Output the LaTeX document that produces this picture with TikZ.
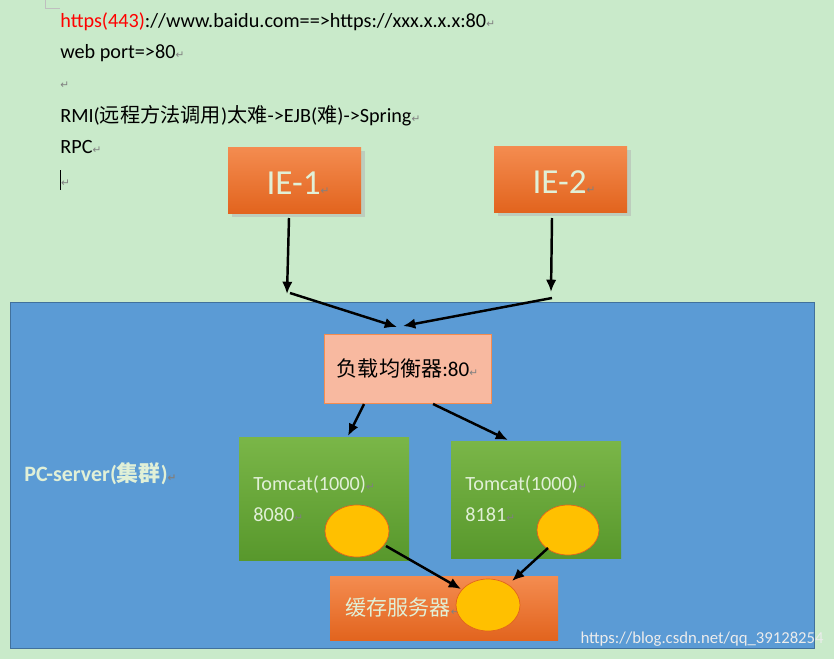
\documentclass[tikz,border=0pt]{standalone}
\usepackage{fontspec}
\setmainfont{Carlito}
\newfontfamily\cjk{Noto Sans CJK SC}
\newfontfamily\dv{DejaVu Sans}
\usetikzlibrary{arrows.meta,shapes.geometric}
\definecolor{bggreen}{RGB}{201,234,202}
\definecolor{blue1}{RGB}{91,155,213}
\definecolor{blue2}{RGB}{65,113,156}
\definecolor{org1}{RGB}{244,140,80}
\definecolor{org2}{RGB}{226,100,30}
\definecolor{grn1}{RGB}{122,182,72}
\definecolor{grn2}{RGB}{88,152,44}
\definecolor{salmon}{RGB}{248,185,160}
\definecolor{gold}{RGB}{255,192,0}
\definecolor{txtlight}{RGB}{225,240,215}
\newcommand{\rt}{{\dv\color{gray}\fontsize{6}{6}\selectfont ↵}}
\tikzset{x=0.02cm,y=-0.02cm,
 orangebox/.style={top color=org1,bottom color=org2,draw=none},
 greenbox/.style={top color=grn1,bottom color=grn2,draw=none},
 ball/.style={fill=gold,draw=org2,thin},
 arr/.style={-{Latex[length=7pt,width=6pt]},line width=1.4pt},
 toptext/.style={anchor=west,inner sep=0,font=\fontsize{11.5}{14}\selectfont}}
\begin{document}
\begin{tikzpicture}
\fill[bggreen] (0,0) rectangle (834,659);
\useasboundingbox (0,0) rectangle (834,659);
\draw[gray!50] (45,0) -- (45,8) -- (60,8);
\node[toptext] (t1) at (60,22) {\textcolor{red}{https(443)}://www.baidu.com==>https://xxx.x.x.x:80\rt};
\node[toptext] (t2) at (60,53) {web port=>80\rt};
\node[toptext] (t3) at (60,85) {\rt};
\node[toptext] (t4) at (60,116) {RMI({\cjk 远程方法调用})\cjk 太难\rmfamily->EJB({\cjk 难})->Spring\rt};
\node[toptext] (t5) at (60,147) {RPC\rt};
\node[toptext] (t6) at (60,180) {\rule[-2pt]{0.5pt}{11pt}\rt};
\draw[blue2,fill=blue1] (10,302) rectangle (814,648);
\fill[gray!60,opacity=0.5] (232,151) rectangle (365,217);
\fill[gray!60,opacity=0.5] (498,150) rectangle (631,216);
\node[orangebox,minimum width=133*0.02cm,minimum height=66*0.02cm] (ie1) at (294.5,180) {};
\node[orangebox,minimum width=133*0.02cm,minimum height=66*0.02cm] (ie2) at (560.5,179) {};
\node[text=txtlight,font=\fontsize{20}{22}\selectfont] at (298,183) {IE-1\rt};
\node[text=txtlight,font=\fontsize{20}{22}\selectfont] at (564,182) {IE-2\rt};
\coordinate (j1) at (287,294);
\coordinate (j2) at (551,292);
\draw[arr] (289,218) -- (j1);
\draw[arr] (552,218) -- (j2);
\node[fill=salmon,draw=org1,minimum width=167*0.02cm,minimum height=69*0.02cm,font=\fontsize{12}{14}\selectfont] (lb) at (407.5,368.5) {{\cjk 负载均衡器}:80\rt};
\draw[arr] (290,293) -- (397,327);
\draw[arr] (552,298) -- (403,326);
\node[greenbox,minimum width=170*0.02cm,minimum height=123*0.02cm] (tc1) at (324,498.5) {};
\node[greenbox,minimum width=170*0.02cm,minimum height=117*0.02cm] (tc2) at (536,499.5) {};
\draw[arr] (364,404) -- (348,436);
\draw[arr] (433,404) -- (508,440);
\node[toptext,text=txtlight] at (253,485) {Tomcat(1000)\rt};
\node[toptext,text=txtlight] at (253,515) {8080\rt};
\node[toptext,text=txtlight] at (465,485) {Tomcat(1000)\rt};
\node[toptext,text=txtlight] at (465,515) {8181\rt};
\node[ball,ellipse,minimum width=64*0.02cm,minimum height=52*0.02cm,inner sep=0] (b1) at (357,531) {};
\node[ball,ellipse,minimum width=62*0.02cm,minimum height=50*0.02cm,inner sep=0] (b2) at (568,530) {};
\node[orangebox,minimum width=228*0.02cm,minimum height=64*0.02cm] (cache) at (444,608) {};
\node[anchor=west,inner sep=0,text=txtlight,font=\cjk\fontsize{12}{14}\selectfont] at (345,607) {缓存服务器\rt};
\node[ball,ellipse,minimum width=64*0.02cm,minimum height=52*0.02cm,inner sep=0] (b3) at (488,605) {};
\draw[arr] (386,546) -- (461,589);
\draw[arr] (548,548) -- (512,581);
\node[anchor=west,inner sep=0,text=txtlight,font=\bfseries\fontsize{12.5}{14}\selectfont] at (24,474) {PC-server(\cjk\bfseries 集群\rmfamily)\rt};
\node[anchor=east,inner sep=0,text=white!85!gray,font=\fontsize{9.5}{12}\selectfont] at (824,639) {https://blog.csdn.net/qq\_39128254};
\end{tikzpicture}
\end{document}
